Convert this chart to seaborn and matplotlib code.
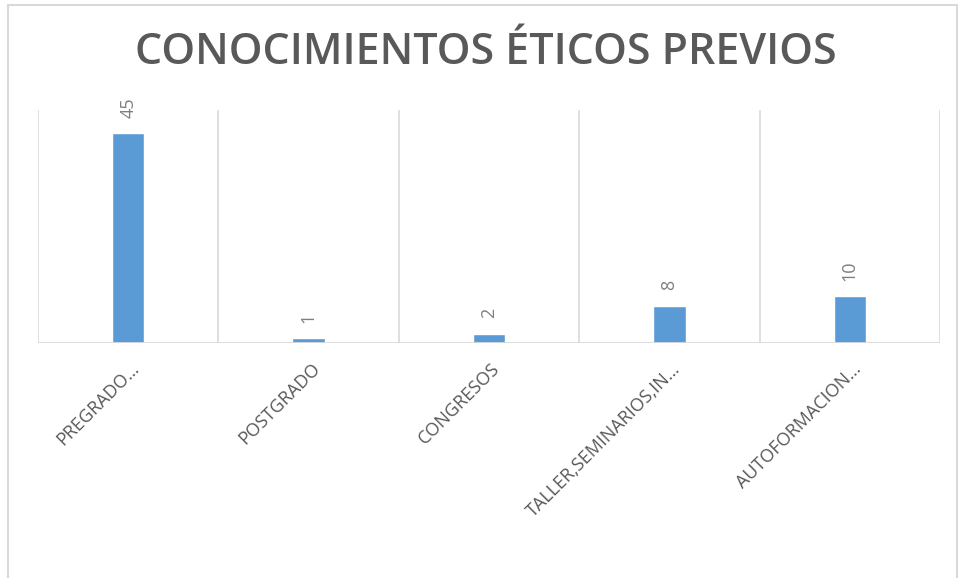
import matplotlib
matplotlib.use('Agg')
import matplotlib.pyplot as plt
import seaborn as sns
import pandas as pd
from matplotlib.patches import Rectangle

categories = ['PREGRADO…', 'POSTGRADO', 'CONGRESOS', 'TALLER,SEMINARIOS,IN…', 'AUTOFORMACION…']
counts = [45, 1, 2, 8, 10]
title = 'CONOCIMIENTOS ÉTICOS PREVIOS'

sns.set_style('white')
plt.rcParams['font.family'] = ['Open Sans', 'DejaVu Sans']

df = pd.DataFrame({'cat': categories, 'n': counts})

fig = plt.figure(figsize=(9.59, 5.78), dpi=100)
ax = fig.add_axes([38 / 959, 1 - 343 / 578, (940 - 38) / 959, (343 - 110) / 578])

sns.barplot(data=df, x='cat', y='n', color='#5B9BD5', saturation=1, width=0.18, ax=ax)

ax.set_xlim(-0.5, len(categories) - 0.5)
ax.set_ylim(0, 50)
for b in range(len(categories) + 1):
    ax.axvline(b - 0.5, color='#d9d9d9', lw=1.2, zorder=0)
ax.axhline(0, color='#d9d9d9', lw=2, zorder=3)

for s in ax.spines.values():
    s.set_visible(False)
ax.set_yticks([])
ax.set_xlabel('')
ax.set_ylabel('')
ax.tick_params(axis='x', length=0, pad=12)
ax.set_xticks(range(len(categories)))
ax.set_xticklabels(categories, rotation=45, ha='right', rotation_mode='anchor',
                   color='#595959', fontsize=13)
for lbl in ax.get_xticklabels():
    lbl.set_transform(lbl.get_transform() + matplotlib.transforms.ScaledTranslation(2 / 100, 0, fig.dpi_scale_trans))

for i, v in enumerate(counts):
    ax.annotate(str(v), (i, v), xytext=(0, 11), textcoords='offset points',
                rotation=90, ha='center', va='bottom', color='#7f7f7f', fontsize=13)

fig.text(486 / 959, 1 - 53 / 578, title, ha='center', va='center',
         fontsize=31, fontweight=600, color='#595959')

fig.patches.append(Rectangle((8 / 959, -0.05), (957 - 8) / 959, 1 - 5 / 578 + 0.05,
                             transform=fig.transFigure, fill=False,
                             edgecolor='#d9d9d9', lw=1.5))

fig.savefig('out.png', dpi=100)
